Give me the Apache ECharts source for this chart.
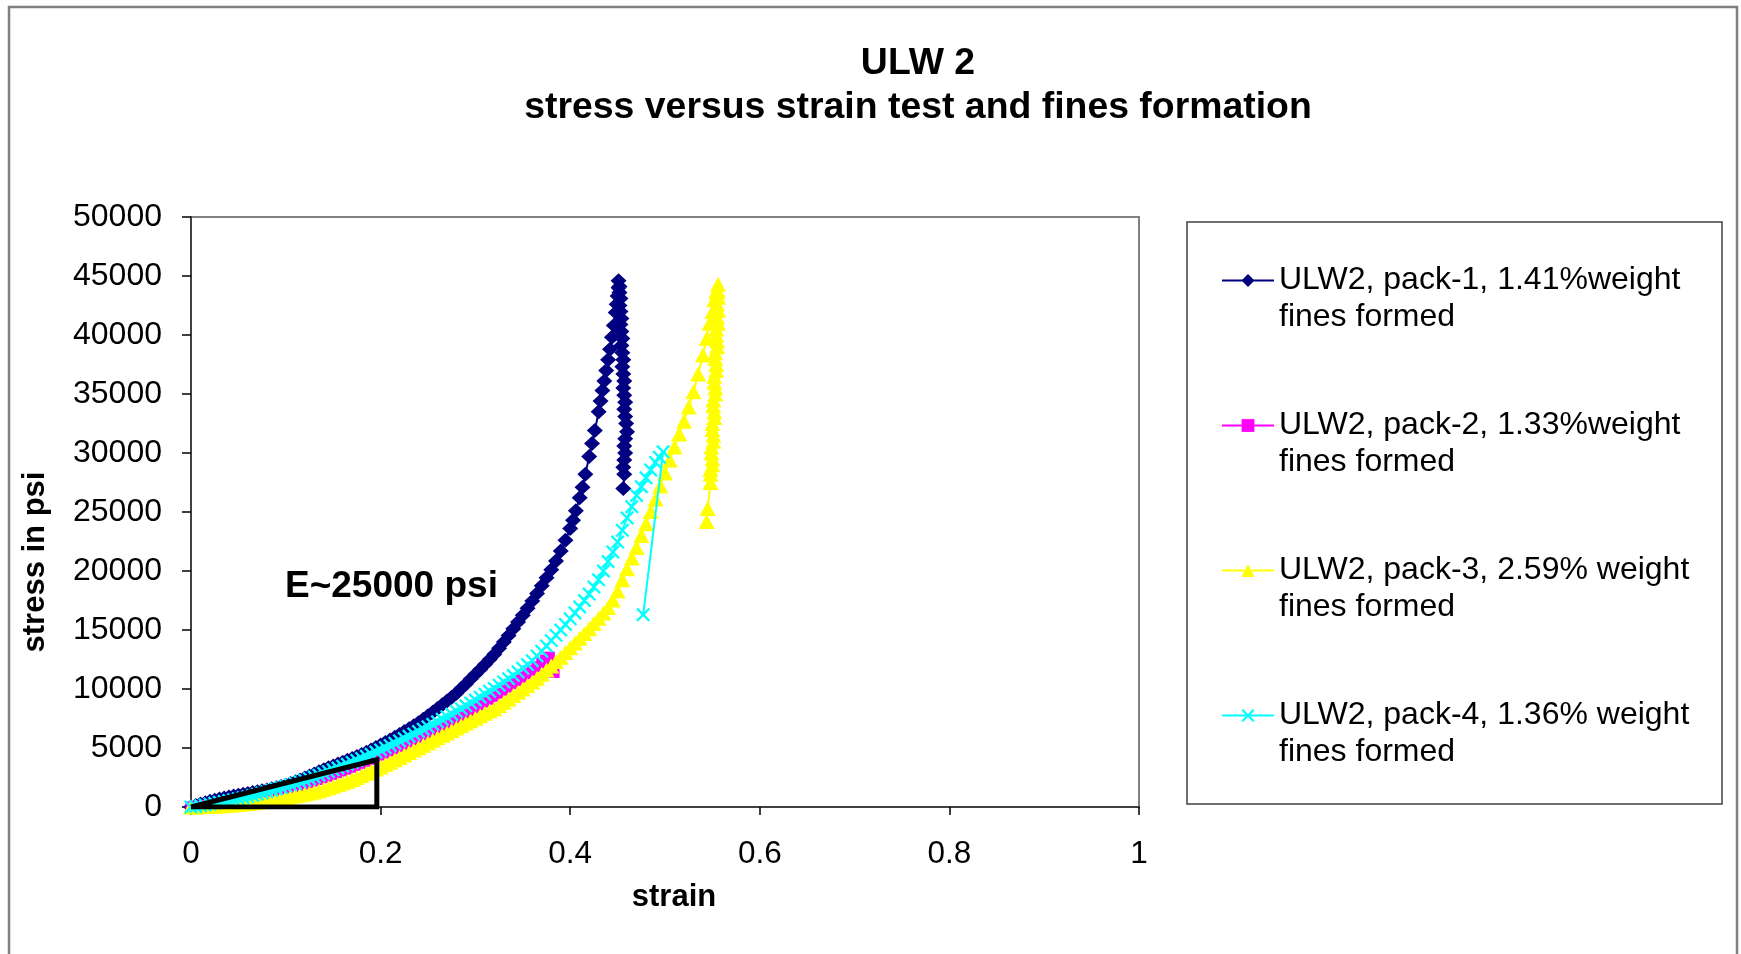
<!DOCTYPE html>
<html>
<head>
<meta charset="utf-8">
<script src="https://cdn.jsdelivr.net/npm/echarts@6/dist/echarts.min.js"></script>
<style>
  html, body { margin: 0; padding: 0; background: #ffffff; }
  #chart { width: 1741px; height: 954px; }
</style>
</head>
<body>
<div id="chart"></div>
<script>
// Text shown on the chart
const chartTitle = 'ULW 2\nstress versus strain test and fines formation';
const xAxisTitle = 'strain';
const yAxisTitle = 'stress in psi';
const modulusNote = 'E~25000 psi';
const seriesNames = [
  'ULW2, pack-1, 1.41%weight\nfines formed',
  'ULW2, pack-2, 1.33%weight\nfines formed',
  'ULW2, pack-3, 2.59% weight\nfines formed',
  'ULW2, pack-4, 1.36% weight\nfines formed'
];
const seriesColors = ['#000080', '#ff00ff', '#ffff00', '#00ffff'];

// Axis ranges
const strainRange = [0, 1, 0.2];      // min, max, step
const stressRange = [0, 50000, 5000];

// [strain, stress in psi] for each pack
const pack1 = [
  [0,0],[0.005,130],[0.01,250],[0.015,370],[0.02,480],[0.025,580],[0.03,680],[0.035,770],
  [0.04,850],[0.045,930],[0.05,1000],[0.055,1080],[0.06,1150],[0.065,1220],[0.07,1300],
  [0.075,1370],[0.08,1450],[0.085,1540],[0.09,1640],[0.095,1740],[0.10,1850],[0.105,1990],
  [0.11,2130],[0.115,2290],[0.12,2450],[0.125,2620],[0.13,2800],[0.135,2980],[0.14,3150],
  [0.145,3320],[0.15,3480],[0.155,3640],[0.16,3800],[0.165,3960],[0.17,4120],[0.175,4280],
  [0.18,4450],[0.185,4640],[0.19,4830],[0.195,5040],[0.20,5250],[0.205,5460],[0.21,5680],
  [0.215,5910],[0.22,6150],[0.225,6390],[0.23,6640],[0.235,6890],[0.24,7150],[0.245,7440],
  [0.25,7730],[0.255,8040],[0.26,8350],[0.265,8660],[0.27,8980],[0.275,9310],[0.28,9650],
  [0.285,10040],[0.29,10430],[0.295,10840],[0.30,11250],[0.305,11660],[0.31,12080],
  [0.315,12510],[0.32,12950],[0.325,13460],[0.33,13980],[0.335,14540],[0.34,15100],
  [0.345,15670],[0.35,16250],[0.355,16850],[0.36,17450],[0.365,18100],[0.37,18750],
  [0.375,19420],[0.38,20100],[0.385,20850],[0.39,21700],[0.395,22600],[0.40,23600],
  [0.403,24300],[0.406,25100],[0.41,26200],[0.413,27100],[0.416,28200],[0.42,29700],
  [0.423,30800],[0.426,31900],[0.43,33500],[0.432,34400],[0.434,35300],[0.436,36100],
  [0.438,37000],[0.44,37900],[0.442,38800],[0.444,39800],[0.446,40800],[0.448,41900],
  [0.449,42600],[0.45,43300],[0.451,44000],[0.451,44600],
  [0.452,44100],[0.452,43600],[0.453,43100],[0.452,42500],[0.453,42000],[0.454,41400],
  [0.453,40900],[0.454,40300],[0.455,39700],[0.454,39100],[0.455,38500],[0.456,37900],
  [0.455,37300],[0.456,36700],[0.457,36100],[0.456,35500],[0.457,34900],[0.458,34300],
  [0.457,33700],[0.458,33100],[0.459,32500],[0.46,31800],[0.458,31200],[0.457,30600],
  [0.458,30000],[0.457,29400],[0.456,28800],[0.457,28200],[0.456,27000]
];
const pack2 = [
  [0,0],[0.005,40],[0.01,80],[0.015,130],[0.02,180],[0.025,240],[0.03,300],[0.035,365],
  [0.04,430],[0.045,500],[0.05,570],[0.055,645],[0.06,720],[0.065,800],[0.07,880],
  [0.075,970],[0.08,1060],[0.085,1160],[0.09,1260],[0.095,1360],[0.10,1470],[0.105,1580],
  [0.11,1700],[0.115,1820],[0.12,1940],[0.125,2070],[0.13,2200],[0.135,2330],[0.14,2470],
  [0.145,2610],[0.15,2760],[0.155,2910],[0.16,3060],[0.165,3210],[0.17,3370],[0.175,3530],
  [0.18,3700],[0.185,3870],[0.19,4040],[0.195,4220],[0.20,4400],[0.205,4570],[0.21,4750],
  [0.215,4930],[0.22,5110],[0.225,5290],[0.23,5480],[0.235,5670],[0.24,5860],[0.245,6050],
  [0.25,6250],[0.255,6450],[0.26,6650],[0.265,6850],[0.27,7060],[0.275,7270],[0.28,7490],
  [0.285,7710],[0.29,7940],[0.295,8170],[0.30,8400],[0.305,8640],[0.31,8880],[0.315,9130],
  [0.32,9380],[0.325,9640],[0.33,9900],[0.335,10170],[0.34,10450],[0.345,10720],
  [0.35,11000],[0.355,11290],[0.36,11580],[0.365,11890],[0.37,12200],[0.374,12450],
  [0.378,12700],[0.383,11400]
];
const pack3 = [
  [0,0],[0.005,10],[0.01,20],[0.015,35],[0.02,50],[0.025,70],[0.03,90],[0.035,120],
  [0.04,150],[0.045,185],[0.05,220],[0.055,260],[0.06,300],[0.065,350],[0.07,400],
  [0.075,460],[0.08,520],[0.085,580],[0.09,640],[0.095,710],[0.10,780],[0.105,865],
  [0.11,950],[0.115,1025],[0.12,1100],[0.125,1185],[0.13,1270],[0.135,1380],[0.14,1500],
  [0.145,1630],[0.15,1760],[0.155,1900],[0.16,2040],[0.165,2180],[0.17,2330],[0.175,2500],
  [0.18,2680],[0.185,2860],[0.19,3040],[0.195,3220],[0.20,3400],[0.205,3600],[0.21,3800],
  [0.215,4000],[0.22,4200],[0.225,4410],[0.23,4620],[0.235,4820],[0.24,5030],[0.245,5240],
  [0.25,5450],[0.255,5660],[0.26,5870],[0.265,6070],[0.27,6280],[0.275,6490],[0.28,6700],
  [0.285,6900],[0.29,7110],[0.295,7310],[0.30,7520],[0.305,7730],[0.31,7940],[0.315,8130],
  [0.32,8330],[0.325,8600],[0.33,8880],[0.335,9160],[0.34,9440],[0.345,9720],[0.35,10000],
  [0.355,10300],[0.36,10600],[0.365,10920],[0.37,11250],[0.375,11600],[0.38,11950],
  [0.385,12320],[0.39,12700],[0.395,13100],[0.40,13500],[0.405,13900],[0.41,14300],
  [0.415,14700],[0.42,15100],[0.425,15550],[0.43,16000],[0.435,16450],[0.44,16900],
  [0.445,17550],[0.45,18300],[0.455,19250],[0.46,20200],[0.465,21100],[0.47,22000],
  [0.475,23000],[0.48,24000],[0.485,25050],[0.49,26100],[0.495,27200],[0.50,28300],
  [0.505,29400],[0.51,30500],[0.515,31600],[0.52,32700],[0.525,33900],[0.53,35200],
  [0.535,36700],[0.54,38300],[0.544,39700],[0.547,41000],[0.55,42000],[0.552,43000],
  [0.554,43700],[0.556,44300],
  [0.556,43700],[0.556,43200],[0.555,42600],[0.556,42100],[0.555,41500],[0.556,41000],
  [0.554,40500],[0.554,40000],[0.555,39500],[0.555,39000],[0.553,38500],[0.553,38000],
  [0.554,37500],[0.554,37000],[0.552,36500],[0.552,36000],[0.553,35500],[0.553,35000],
  [0.551,34500],[0.551,34000],[0.552,33500],[0.552,33000],[0.55,32500],[0.55,32000],
  [0.551,31500],[0.551,31000],[0.549,30500],[0.549,30000],[0.55,29500],[0.55,29000],
  [0.548,28600],[0.548,28200],[0.548,27500],[0.545,25300],[0.544,24200]
];
const pack4 = [
  [0,0],[0.005,50],[0.01,100],[0.015,175],[0.02,250],[0.025,325],[0.03,400],[0.035,475],
  [0.04,550],[0.045,625],[0.05,700],[0.055,785],[0.06,870],[0.065,975],[0.07,1080],
  [0.075,1190],[0.08,1300],[0.085,1415],[0.09,1530],[0.095,1645],[0.10,1760],[0.105,1880],
  [0.11,2000],[0.115,2130],[0.12,2260],[0.125,2400],[0.13,2540],[0.135,2690],[0.14,2840],
  [0.145,2995],[0.15,3150],[0.155,3305],[0.16,3460],[0.165,3620],[0.17,3780],[0.175,3950],
  [0.18,4120],[0.185,4295],[0.19,4470],[0.195,4655],[0.20,4840],[0.205,5030],[0.21,5220],
  [0.215,5410],[0.22,5600],[0.225,5795],[0.23,5990],[0.235,6190],[0.24,6390],[0.245,6595],
  [0.25,6800],[0.255,7010],[0.26,7220],[0.265,7430],[0.27,7640],[0.275,7870],[0.28,8100],
  [0.285,8335],[0.29,8570],[0.295,8815],[0.30,9060],[0.305,9310],[0.31,9560],[0.315,9800],
  [0.32,10050],[0.325,10320],[0.33,10600],[0.335,10870],[0.34,11150],[0.345,11450],
  [0.35,11750],[0.355,12070],[0.36,12400],[0.365,12800],[0.37,13200],[0.375,13650],
  [0.38,14100],[0.385,14550],[0.39,15000],[0.395,15470],[0.40,15950],[0.405,16450],
  [0.41,16950],[0.415,17500],[0.42,18050],[0.425,18650],[0.43,19250],[0.435,20000],
  [0.44,20800],[0.445,21600],[0.45,22450],[0.455,23450],[0.46,24500],[0.465,25450],
  [0.47,26400],[0.475,27150],[0.48,27900],[0.485,28550],[0.49,29200],[0.494,29650],
  [0.498,30100],[0.477,16300]
];
// Slope triangle drawn over the initial part of the curves
const modulusTriangle = [[0,0],[0.196,4000],[0.196,0],[0,0]];

const FONT = "'Liberation Sans', Arial, Helvetica, sans-serif";
const crossSymbol = 'path://M0,1.4L1.4,0L6,4.6L10.6,0L12,1.4L7.4,6L12,10.6L10.6,12L6,7.4L1.4,12L0,10.6L4.6,6Z';
const symbols = ['diamond', 'rect', 'triangle', crossSymbol];
const symbolSizes = [[16, 15], 11, [16, 15], 14];
const packs = [pack1, pack2, pack3, pack4];

const chart = echarts.init(document.getElementById('chart'), null, { renderer: 'canvas' });

const series = packs.map((d, i) => ({
  name: seriesNames[i],
  type: 'line',
  data: d,
  symbol: symbols[i],
  symbolSize: symbolSizes[i],
  showAllSymbol: true,
  lineStyle: { color: seriesColors[i], width: 2 },
  itemStyle: { color: seriesColors[i], borderWidth: 0 },
  emphasis: { disabled: true },
  z: 2 + i
}));

series.push({
  name: 'slope',
  type: 'line',
  data: modulusTriangle,
  symbol: 'none',
  lineStyle: { color: '#000000', width: 5, join: 'miter' },
  emphasis: { disabled: true },
  z: 10
});

chart.setOption({
  animation: false,
  backgroundColor: '#ffffff',
  textStyle: { fontFamily: FONT },
  title: {
    text: chartTitle,
    left: 913,
    top: 37,
    textAlign: 'center',
    textStyle: { fontFamily: FONT, fontSize: 37.4, fontWeight: 'bold', color: '#000', lineHeight: 44 }
  },
  grid: {
    left: 191, top: 217, width: 948, height: 590,
    show: true, borderColor: '#808080', borderWidth: 2, backgroundColor: '#ffffff'
  },
  legend: {
    data: seriesNames,
    orient: 'vertical',
    left: 1221,
    top: 225,
    padding: 0,
    itemWidth: 52,
    itemHeight: 16,
    itemGap: 34,
    selectedMode: false,
    // leading blank line keeps the marker level with the first text line
    formatter: name => '\n' + name,
    textStyle: { fontFamily: FONT, fontSize: 32, color: '#000', lineHeight: 37 }
  },
  xAxis: {
    type: 'value',
    min: strainRange[0], max: strainRange[1], interval: strainRange[2],
    axisLine: { show: true, lineStyle: { color: '#404040', width: 2 } },
    axisTick: { show: true, length: 8, lineStyle: { color: '#000', width: 1.5 } },
    splitLine: { show: false },
    axisLabel: { fontFamily: FONT, fontSize: 31.5, color: '#000', margin: 32, lineHeight: 31 }
  },
  yAxis: {
    type: 'value',
    min: stressRange[0], max: stressRange[1], interval: stressRange[2],
    axisLine: { show: true, lineStyle: { color: '#404040', width: 2 } },
    axisTick: { show: true, length: 9, lineStyle: { color: '#000', width: 1.5 } },
    splitLine: { show: false },
    axisLabel: { fontFamily: FONT, fontSize: 32, color: '#000', margin: 29, formatter: v => String(v) }
  },
  graphic: [
    {
      type: 'rect', silent: true, z: -10,
      shape: { x: 9, y: 7, width: 1728, height: 980 },
      style: { fill: null, stroke: '#808080', lineWidth: 2.5 }
    },
    {
      type: 'rect', silent: true, z: -5,
      shape: { x: 1187, y: 222, width: 535, height: 582 },
      style: { fill: '#ffffff', stroke: '#404040', lineWidth: 1.5 }
    },
    {
      type: 'text', silent: true, z: 20,
      x: 35, y: 562, rotation: Math.PI / 2,
      style: { text: yAxisTitle, fontFamily: FONT, fontSize: 31, fontWeight: 'bold', fill: '#000', align: 'center', verticalAlign: 'middle' }
    },
    {
      type: 'text', silent: true, z: 20,
      x: 674, y: 897,
      style: { text: xAxisTitle, fontFamily: FONT, fontSize: 31, fontWeight: 'bold', fill: '#000', align: 'center', verticalAlign: 'middle' }
    },
    {
      type: 'text', silent: true, z: 20,
      x: 285, y: 587,
      style: { text: modulusNote, fontFamily: FONT, fontSize: 37, fontWeight: 'bold', fill: '#000', align: 'left', verticalAlign: 'middle' }
    }
  ],
  series: series
});
</script>
</body>
</html>
